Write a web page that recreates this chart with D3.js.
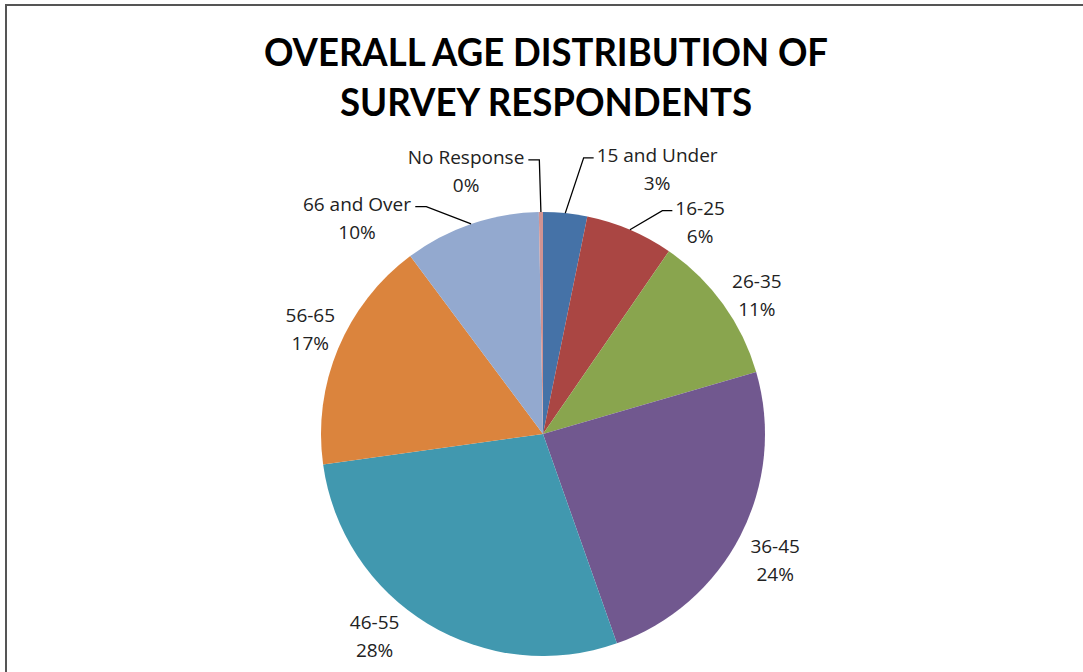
<!DOCTYPE html>
<html>
<head>
<meta charset="utf-8">
<script src="https://cdn.jsdelivr.net/npm/d3@7/dist/d3.min.js"></script>
<style>
  html, body { margin: 0; padding: 0; background: #fff; }
  svg { display: block; }
  text { font-family: Lato, "Open Sans", sans-serif; }
  .lbl text { font-family: "Open Sans", Lato, sans-serif; }
</style>
</head>
<body>
<svg id="chart" width="1083" height="672"></svg>
<script>
// ---- data ----
const categories = ["15 and Under", "16-25", "26-35", "36-45", "46-55", "56-65", "66 and Over", "No Response"];
const values = [3.2, 6.4, 10.9, 24.1, 28.2, 17.0, 9.9, 0.3];
const colors = ["#4572A7", "#AA4643", "#89A54E", "#71588F", "#4198AF", "#DB843D", "#93A9CF", "#D19392"];
const titleLines = ["OVERALL AGE DISTRIBUTION OF", "SURVEY RESPONDENTS"];

// ---- label layout (angle in degrees clockwise from top, distance as multiple of radius) ----
const labelAngle = [23.3, 36.5, 56.9, 118.5, 219.8, 294.3, 319.3, 343.7];
const labelDist  = [1.30, 1.19, 1.15, 1.19, 1.185, 1.15, 1.285, 1.235];
const hasLeader  = [true, true, false, false, false, false, true, true];

const svg = d3.select("#chart");
const W = 1083, H = 672;
const cx = 543, cy = 434, R = 222;

// border
svg.append("rect")
  .attr("x", 6).attr("y", 5).attr("width", W + 20).attr("height", H + 20)
  .attr("fill", "#fff").attr("stroke", "#555").attr("stroke-width", 2);

// title
titleLines.forEach((t, i) => {
  svg.append("text")
    .attr("x", 546).attr("y", 66 + i * 50)
    .attr("text-anchor", "middle")
    .attr("font-size", 38).attr("font-weight", "bold")
    .attr("textLength", i === 0 ? 564 : 412)
    .attr("lengthAdjust", "spacingAndGlyphs")
    .attr("fill", "#000")
    .text(t);
});

const total = d3.sum(values);
const pie = d3.pie().sort(null).value(d => d)(values);
const arc = d3.arc().innerRadius(0).outerRadius(R);

const g = svg.append("g").attr("transform", `translate(${cx},${cy})`);
g.selectAll("path.slice").data(pie).join("path")
  .attr("class", "slice")
  .attr("d", arc)
  .attr("fill", (d, i) => colors[i]);

const fmt = v => Math.round(v / total * 100) + "%";
const rad = a => a * Math.PI / 180;

const labels = g.selectAll("g.lbl").data(pie).join("g").attr("class", "lbl");
labels.each(function(d, i) {
  const a = rad(labelAngle[i]);
  const x = Math.sin(a) * R * labelDist[i];
  const y = -Math.cos(a) * R * labelDist[i];
  const t = d3.select(this).append("text")
    .attr("x", x).attr("y", y)
    .attr("text-anchor", "middle")
    .attr("font-size", 19).attr("fill", "#222");
  t.append("tspan").attr("x", x).attr("dy", "-0.35em").text(categories[i]);
  t.append("tspan").attr("x", x).attr("dy", "1.47em").text(fmt(values[i]));
});

// leader lines
labels.each(function(d, i) {
  if (!hasLeader[i]) return;
  const first = d3.select(this).select("tspan").node();
  const bb = first.getBBox();
  const mid = (d.startAngle + d.endAngle) / 2;
  const p0 = [Math.sin(mid) * R, -Math.cos(mid) * R];
  const yLine = bb.y + bb.height * 0.6;
  const textRight = bb.x + bb.width;
  const rightSide = (bb.x + bb.width / 2) < p0[0];
  const p2 = rightSide ? [textRight + 4, yLine] : [bb.x - 3, yLine];
  let p1 = rightSide ? [p2[0] + 11, yLine] : [p2[0] - 10, yLine];
  if (rightSide && p1[0] > p0[0]) p1 = [p0[0], yLine];
  d3.select(this).insert("path", "text")
    .attr("d", d3.line()([p0, p1, p2]))
    .attr("fill", "none").attr("stroke", "#000").attr("stroke-width", 1.3);
});
</script>
</body>
</html>
